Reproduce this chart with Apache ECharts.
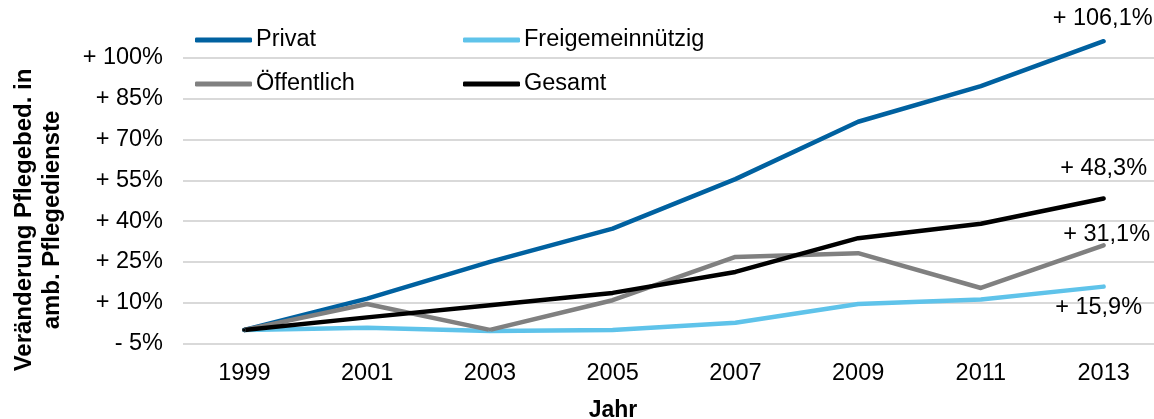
<!DOCTYPE html>
<html>
<head>
<meta charset="utf-8">
<script src="https://cdn.jsdelivr.net/npm/echarts@6/dist/echarts.min.js"></script>
<style>
  html, body { margin: 0; padding: 0; background: #fff; overflow: hidden; }
  /* etwas breiter als das Fenster: die Zeichenfläche läuft rechts über den Rand hinaus */
  #main { width: 1166px; height: 419px; }
</style>
</head>
<body>
<div id="main"></div>
<script>
//Jahre (Kategorien)
let years = ['1999', '2001', '2003', '2005', '2007', '2009', '2011', '2013'];
//Veränderung in % gegenüber 1999
let privat = [0, 11.5, 25, 37.2, 55.4, 76.5, 89.6, 106.1];
let freigemeinnuetzig = [0, 0.8, -0.4, 0, 2.6, 9.5, 11.2, 15.9];
let oeffentlich = [0, 9.5, 0, 10.9, 26.8, 28.2, 15.4, 31.1];
let gesamt = [0, 4.6, 9.1, 13.6, 21.3, 33.7, 39.0, 48.3];
//Achsenbeschriftung y: -5% ... +100%, Abstand 15
let yMin = -5;
let yStep = 15;
let yTop = 115;

let font = '"Liberation Sans", Arial, sans-serif';
let fs = 23.5;

//die Achse beginnt bei -5, deshalb wird um 5 verschoben (min muss Vielfaches von interval sein)
let shift = -yMin;

function fmtPct(v) {
  return '+ ' + v.toFixed(1).replace('.', ',') + '%';
}

//Serie bauen, letzter Punkt bekommt Beschriftung
function buildSeries(name, values, color, offset) {
  let last = values.length - 1;
  return {
    name: name,
    type: 'line',
    symbol: 'circle',
    symbolSize: 3,
    showSymbol: true,
    lineStyle: { color: color, width: 4.5, cap: 'round', join: 'round' },
    itemStyle: { color: color },
    data: values.map((v, i) => {
      if (i !== last) return v + shift;
      return {
        value: v + shift,
        label: {
          show: true,
          position: 'inside',
          offset: offset,
          formatter: () => fmtPct(v),
          color: '#000',
          fontSize: fs,
          fontFamily: font
        }
      };
    })
  };
}

let legendText = { fontSize: fs, fontFamily: font, color: '#000', lineHeight: 26, padding: [0, 0, 0, -1] };

let chart = echarts.init(document.getElementById('main'), null, { renderer: 'canvas' });

chart.setOption({
  backgroundColor: '#ffffff',
  animation: false,
  grid: { left: 183, right: 1, top: 17, bottom: 75.5 },
  legend: [{
    data: ['Privat', 'Öffentlich'],
    orient: 'vertical',
    left: 190,
    top: 22,
    itemWidth: 57,
    itemHeight: 5,
    itemGap: 18,
    icon: 'roundRect',
    textStyle: legendText
  }, {
    data: ['Freigemeinnützig', 'Gesamt'],
    orient: 'vertical',
    left: 458,
    top: 22,
    itemWidth: 57,
    itemHeight: 5,
    itemGap: 18,
    icon: 'roundRect',
    textStyle: legendText
  }],
  xAxis: {
    type: 'category',
    data: years,
    boundaryGap: true,
    axisLine: { show: false },
    axisTick: { show: false },
    axisLabel: { fontSize: fs, fontFamily: font, color: '#000', margin: 18 }
  },
  yAxis: {
    type: 'value',
    min: 0,
    max: yTop + shift,
    interval: yStep,
    axisLine: { show: false },
    axisTick: { show: false },
    splitLine: { show: true, showMaxLine: false, lineStyle: { color: '#d9d9d9', width: 2 } },
    axisLabel: {
      fontSize: fs,
      fontFamily: font,
      color: '#000',
      margin: 20,
      showMaxLabel: false,
      formatter: (val) => {
        let p = val - shift;
        return (p < 0 ? '- ' + (-p) : '+ ' + p) + '%';
      }
    }
  },
  graphic: [{
    //y-Achsentitel (zweizeilig, gedreht)
    type: 'text',
    x: 38,
    y: 220,
    rotation: Math.PI / 2,
    style: {
      text: 'Veränderung Pflegebed. in\namb. Pflegedienste',
      font: 'bold 24px ' + font,
      fill: '#000',
      align: 'center',
      verticalAlign: 'middle',
      lineHeight: 28
    }
  }, {
    //x-Achsentitel
    type: 'text',
    x: 613,
    y: 411,
    style: {
      text: 'Jahr',
      font: 'bold 23px ' + font,
      fill: '#000',
      align: 'center',
      verticalAlign: 'middle'
    }
  }],
  series: [
    buildSeries('Privat', privat, '#0061a0', [-1, -23]),
    buildSeries('Freigemeinnützig', freigemeinnuetzig, '#5fc3ea', [-5, 21]),
    buildSeries('Öffentlich', oeffentlich, '#808080', [3, -11]),
    buildSeries('Gesamt', gesamt, '#000000', [0, -30])
  ]
});
</script>
</body>
</html>
